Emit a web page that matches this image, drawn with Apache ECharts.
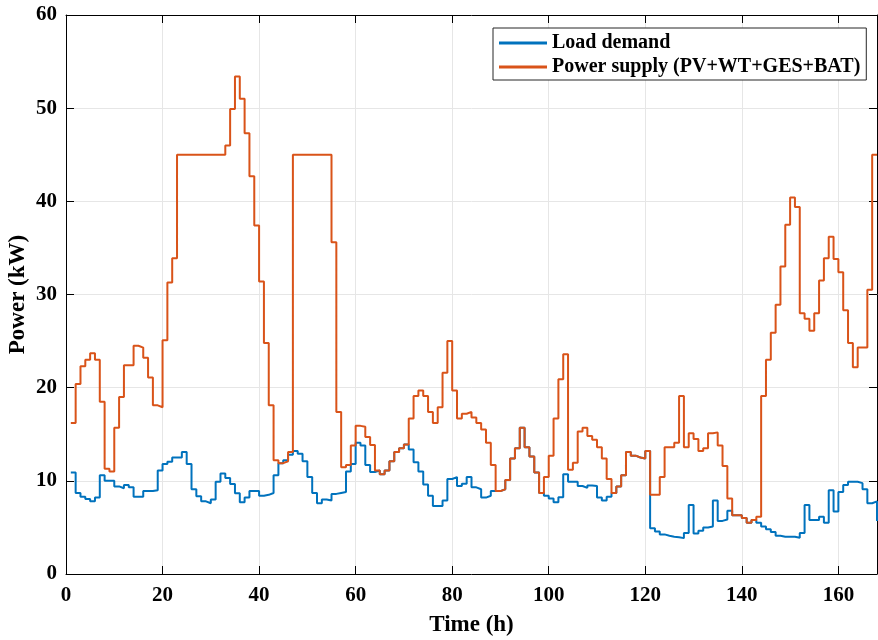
<!DOCTYPE html>
<html>
<head>
<meta charset="utf-8">
<title>Load demand vs power supply</title>
<script src="https://cdn.jsdelivr.net/npm/echarts@6/dist/echarts.min.js"></script>
<style>
  html, body { margin: 0; padding: 0; background: #fff; }
  #chart { width: 878px; height: 640px; }
</style>
</head>
<body>
<div id="chart"></div>
<script>
// hourly values, hour 1 .. 168
const loadDemand = [
  10.9, 8.7, 8.3, 8.05, 7.8, 8.2, 10.6, 10.0, 10.0, 9.4,
  9.2, 9.55, 9.3, 8.3, 8.3, 8.9, 8.9, 9.0, 11.1, 11.8,
  12.05, 12.5, 12.5, 13.1, 11.8, 9.1, 8.35, 7.8, 7.6, 8.0,
  9.9, 10.8, 10.3, 9.66, 8.66, 7.7, 8.2, 8.9, 8.9, 8.4,
  8.5, 8.7, 10.6, 11.9, 12.2, 12.8, 13.2, 12.9, 12.1, 10.4,
  8.7, 7.6, 8.0, 7.9, 8.6, 8.7, 8.8, 11.0, 11.8, 14.1,
  13.8, 11.7, 10.95, 11.1, 10.7, 11.1, 12.1, 13.1, 13.5, 13.9,
  13.35, 12.0, 11.0, 9.6, 8.4, 7.3, 7.3, 7.9, 10.2, 10.4,
  9.45, 9.7, 10.4, 9.3, 9.1, 8.2, 8.4, 8.9, 8.9, 9.1,
  10.1, 12.4, 13.5, 15.7, 13.6, 12.6, 10.9, 8.7, 8.4, 8.1,
  7.7, 8.25, 10.7, 9.9, 9.9, 9.45, 9.25, 9.5, 9.45, 8.2,
  7.9, 8.3, 8.7, 9.4, 10.6, 13.1, 12.7, 12.5, 12.4, 13.2,
  4.9, 4.55, 4.25, 4.1, 4.0, 3.95, 3.85, 4.4, 7.4, 4.35,
  4.65, 5.0, 5.1, 7.9, 5.7, 5.85, 6.8, 6.3, 6.3, 6.0,
  5.5, 5.8, 5.5, 5.1, 4.8, 4.5, 4.1, 4.0, 4.0, 4.0,
  3.9, 4.4, 7.4, 5.8, 5.8, 6.15, 5.5, 9.0, 6.7, 8.8,
  9.55, 9.9, 9.9, 9.75, 9.1, 7.6, 7.8, 5.7
]
const powerSupply = [
  16.2, 20.4, 22.3, 23.0, 23.7, 23.0, 18.5, 11.3, 11.0, 15.7,
  19.0, 22.4, 22.4, 24.5, 24.3, 23.2, 21.1, 18.1, 17.9, 25.1,
  31.3, 33.9, 45, 45, 45, 45, 45, 45, 45, 45,
  45, 45, 46.0, 49.9, 53.4, 51.0, 47.3, 42.7, 37.4, 31.4,
  24.8, 18.1, 12.2, 11.9, 12.1, 13.1, 45, 45, 45, 45,
  45, 45, 45, 45, 35.6, 17.4, 11.45, 11.7, 13.8, 15.9,
  15.8, 14.7, 13.85, 11.1, 10.7, 11.1, 12.1, 13.1, 13.5, 13.9,
  16.7, 19.1, 19.7, 19.1, 17.4, 16.2, 17.9, 21.6, 25.0, 19.7,
  16.7, 17.2, 17.4, 16.8, 16.2, 15.5, 14.1, 11.7, 8.9, 9.1,
  10.1, 12.4, 13.5, 15.7, 13.6, 12.6, 10.9, 8.7, 10.4, 12.7,
  16.7, 20.9, 23.6, 11.2, 11.95, 15.3, 15.7, 14.8, 14.4, 13.6,
  12.4, 10.2, 8.7, 9.4, 10.6, 13.1, 12.7, 12.5, 12.4, 13.2,
  8.5, 8.5, 10.4, 13.6, 13.6, 14.1, 19.1, 13.6, 15.1, 14.5,
  13.2, 13.5, 15.1, 15.2, 13.8, 11.6, 8.1, 6.3, 6.3, 6.0,
  5.5, 5.8, 6.15, 19.1, 23.0, 25.9, 28.9, 33.0, 37.5, 40.4,
  39.4, 28.0, 27.4, 26.1, 28.0, 31.5, 33.9, 36.2, 33.8, 32.4,
  28.3, 24.8, 22.2, 24.3, 24.3, 30.5, 45.0, 45.0
]
const seriesNames = ['Load demand', 'Power supply (PV+WT+GES+BAT)']
const seriesColors = ['#0072BD', '#D95319']
const xTicks = [0, 20, 40, 60, 80, 100, 120, 140, 160]

const font = 'Liberation Serif, Times New Roman, serif'
const labelStyle = { color: '#000', fontFamily: font, fontWeight: 'bold', fontSize: 21 }
const titleStyle = { color: '#000', fontFamily: font, fontWeight: 'bold', fontSize: 23 }

// value axis with the MATLAB look: black box, ticks inside
function boxAxis(extra) {
  return Object.assign({
    type: 'value',
    axisLine: { show: true, onZero: false, lineStyle: { color: '#000', width: 1 } },
    axisTick: { show: true, inside: true, length: 8, lineStyle: { color: '#000', width: 1 } },
    splitLine: { show: false },
    axisLabel: { show: false }
  }, extra)
}

const chart = echarts.init(document.getElementById('chart'))

const option = {
  animation: false,
  backgroundColor: '#fff',
  grid: { left: 66, right: 1, top: 15, bottom: 66, outerBoundsMode: 'none', containLabel: false },
  legend: {
    data: seriesNames,
    orient: 'vertical',
    left: 493,
    top: 28,
    padding: [5, 6, 3, 6],
    itemGap: 4,
    itemWidth: 48,
    itemHeight: 3,
    icon: 'rect',
    backgroundColor: '#fff',
    borderColor: '#262626',
    borderWidth: 1,
    textStyle: { color: '#000', fontFamily: font, fontWeight: 'bold', fontSize: 20, lineHeight: 20 }
  },
  xAxis: [
    boxAxis({
      min: 0, max: 168, interval: 20, position: 'bottom',
      name: 'Time (h)', nameLocation: 'middle', nameGap: 40, nameTextStyle: titleStyle,
      axisLabel: Object.assign({
        show: true, margin: 11,
        formatter: v => (xTicks.indexOf(v) >= 0 ? String(v) : '')
      }, labelStyle),
      splitLine: { show: true, lineStyle: { color: '#e6e6e6', width: 1 } }
    }),
    boxAxis({ min: 0, max: 168, interval: 20, position: 'top' })
  ],
  yAxis: [
    boxAxis({
      min: 0, max: 60, interval: 10, position: 'left',
      name: 'Power (kW)', nameLocation: 'middle', nameGap: 36, nameMoveOverlap: false,
      nameTextStyle: titleStyle,
      axisLabel: Object.assign({ show: true, margin: 9 }, labelStyle),
      splitLine: { show: true, lineStyle: { color: '#e6e6e6', width: 1 } }
    }),
    boxAxis({ min: 0, max: 60, interval: 10, position: 'right' })
  ],
  series: [loadDemand, powerSupply].map((vals, k) => ({
    name: seriesNames[k],
    type: 'line',
    step: 'end',
    symbol: 'none',
    xAxisIndex: 0,
    yAxisIndex: 0,
    color: seriesColors[k],
    lineStyle: { width: 2, color: seriesColors[k] },
    data: vals.map((v, i) => [i + 1, v])
  }))
}

chart.setOption(option)
</script>
</body>
</html>
